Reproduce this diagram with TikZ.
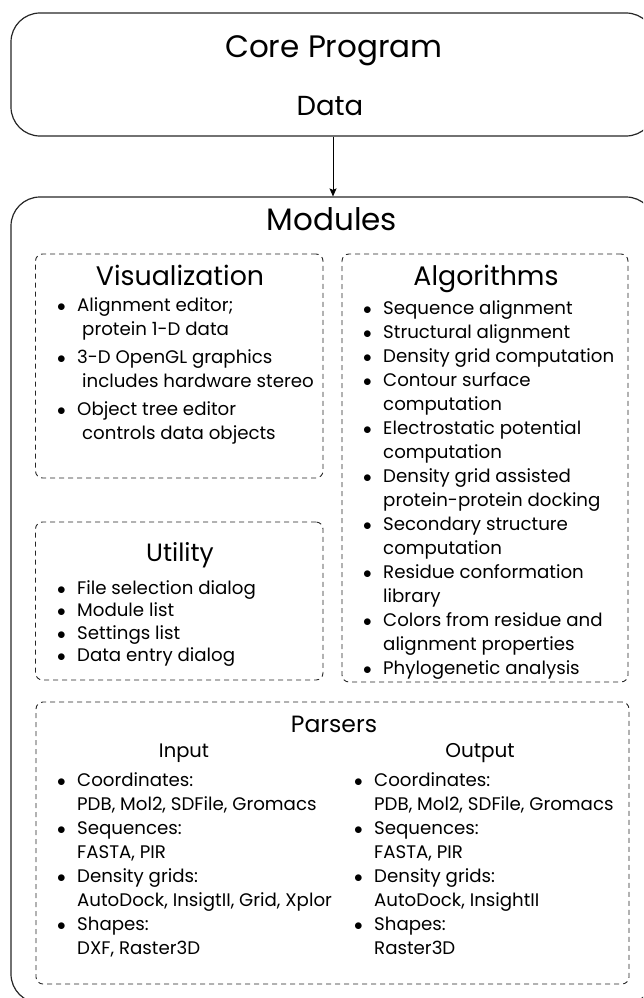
\documentclass[tikz,border=0pt]{standalone}
\usepackage{fontspec}
\setmainfont{Poppins}
\usepackage{tikz}
\usetikzlibrary{arrows.meta}

\newcommand{\itemfont}{\fontsize{18.2}{24}\selectfont}
\newcommand{\utilfont}{\fontsize{18.2}{22.3}\selectfont}
\newcommand{\bul}{$\bullet$}

\tikzset{
  mainbox/.style={draw=black!85, rectangle, rounded corners=29pt, line width=1.2pt, inner sep=0pt},
  groupbox/.style={draw=black!85, rectangle, rounded corners=7pt, dash pattern=on 5pt off 4pt, line width=0.9pt, inner sep=0pt},
  headtext/.style={anchor=base, inner sep=0pt},
  listtext/.style={anchor=base west, inner sep=0pt, align=left},
}

\begin{document}
\begin{tikzpicture}[x=1pt, y=-1pt]
        \useasboundingbox (0,0) rectangle (643,998);
        \clip (0,0) rectangle (643,998);

        % Boxes
        \node[mainbox, minimum width=644pt, minimum height=123pt] (core) at (333, 74.5) {};
        \node[mainbox, minimum width=644pt, minimum height=806pt] (modules) at (333, 600) {};
        \node[groupbox, minimum width=287.5pt, minimum height=224pt] (visbox) at (179.25, 366) {};
        \node[groupbox, minimum width=286pt, minimum height=428pt] (algbox) at (485, 468) {};
        \node[groupbox, minimum width=287.5pt, minimum height=158pt] (utilbox) at (179.25, 601) {};
        \node[groupbox, minimum width=593pt, minimum height=282pt] (parsbox) at (332.5, 843) {};

        % Titles
        \node[headtext, font=\fontsize{31}{36}\selectfont] (coretitle) at (334, 58) {Core Program};
        \node[headtext, font=\fontsize{27.5}{32}\selectfont] (data) at (330, 115) {Data};
        \node[headtext, font=\fontsize{31}{36}\selectfont] (modtitle) at (332, 230) {Modules};
        \node[headtext, font=\fontsize{26.8}{32}\selectfont] (vistitle) at (180, 285) {Visualization};
        \node[headtext, font=\fontsize{26.8}{32}\selectfont] (algtitle) at (486, 285) {Algorithms};
        \node[headtext, font=\fontsize{25}{30}\selectfont] (utiltitle) at (180, 561) {Utility};
        \node[headtext, font=\fontsize{23.5}{28}\selectfont] (parstitle) at (334, 732) {Parsers};
        \node[headtext, font=\fontsize{19.5}{24}\selectfont] (intitle) at (184, 757) {Input};
        \node[headtext, font=\fontsize{20}{24}\selectfont] (outtitle) at (480, 757) {Output};

        % Lists
        \node[listtext, font=\itemfont] (vislist) at (57, 311) {\begin{tabular}[t]{@{}p{20pt}@{}l@{}}
          \bul & Alignment editor;\\
          & \hspace{5pt}protein 1-D data\\[4pt]
          \bul & 3-D OpenGL graphics\\
          & \hspace{5pt}includes hardware stereo\\[4pt]
          \bul & Object tree editor\\
          & \hspace{5pt}controls data objects
        \end{tabular}};
        \node[listtext, font=\itemfont] (alglist) at (363, 314) {\begin{tabular}[t]{@{}p{20pt}@{}l@{}}
          \bul & Sequence alignment\\
          \bul & Structural alignment\\
          \bul & Density grid computation\\
          \bul & Contour surface\\
          & computation\\
          \bul & Electrostatic potential\\
          & computation\\
          \bul & Density grid assisted\\
          & protein-protein docking\\
          \bul & Secondary structure\\
          & computation\\
          \bul & Residue conformation\\
          & library\\
          \bul & Colors from residue and\\
          & alignment properties\\
          \bul & Phylogenetic analysis
        \end{tabular}};
        \node[listtext, font=\utilfont] (utillist) at (57, 594.5) {\begin{tabular}[t]{@{}p{20pt}@{}l@{}}
          \bul & File selection dialog\\
          \bul & Module list\\
          \bul & Settings list\\
          \bul & Data entry dialog
        \end{tabular}};
        \node[listtext, font=\itemfont] (inlist) at (57, 786) {\begin{tabular}[t]{@{}p{20pt}@{}l@{}}
          \bul & Coordinates:\\
          & PDB, Mol2, SDFile, Gromacs\\
          \bul & Sequences:\\
          & FASTA, PIR\\
          \bul & Density grids:\\
          & AutoDock, InsigtII, Grid, Xplor\\
          \bul & Shapes:\\
          & DXF, Raster3D
        \end{tabular}};
        \node[listtext, font=\itemfont] (outlist) at (354, 786) {\begin{tabular}[t]{@{}p{20pt}@{}l@{}}
          \bul & Coordinates:\\
          & PDB, Mol2, SDFile, Gromacs\\
          \bul & Sequences:\\
          & FASTA, PIR\\
          \bul & Density grids:\\
          & AutoDock, InsightII\\
          \bul & Shapes:\\
          & Raster3D
        \end{tabular}};

        % Arrows
        \draw[-{Stealth[length=8pt, width=7pt, inset=1.5pt]}, line width=0.9pt] (core) -- (modules);
\end{tikzpicture}
\end{document}
